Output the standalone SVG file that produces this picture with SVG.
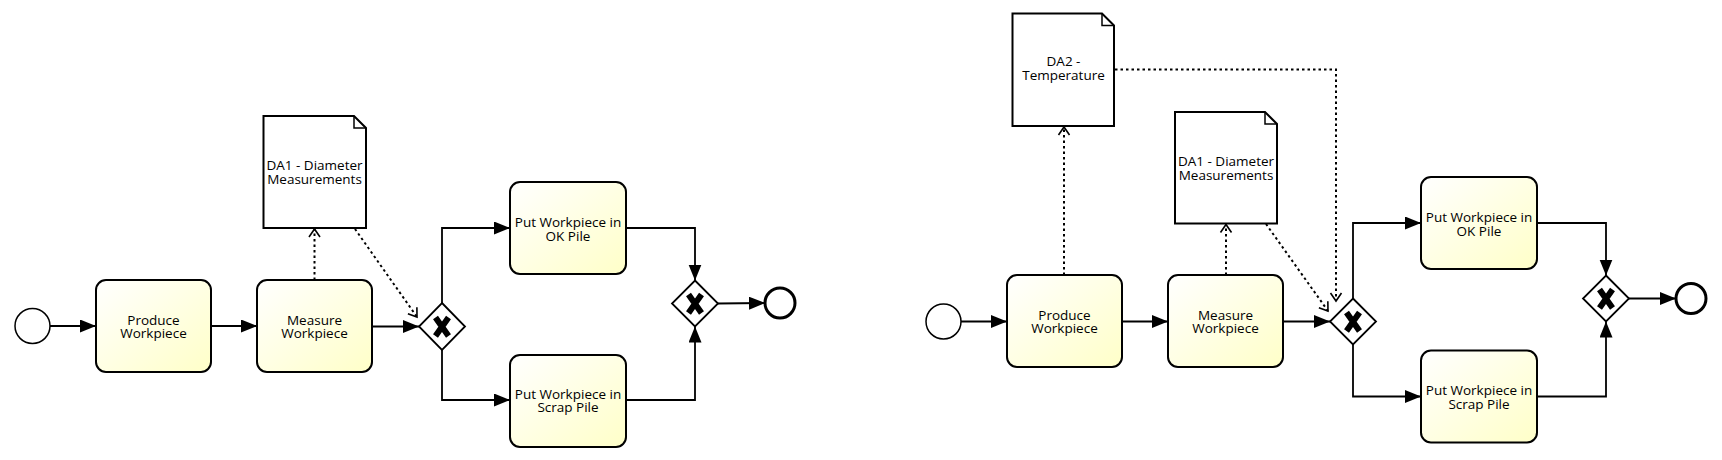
<svg xmlns="http://www.w3.org/2000/svg" width="1722" height="460" viewBox="0 0 1722 460">
<defs>
  <linearGradient id="taskFill" x1="0" y1="0" x2="1" y2="1">
    <stop offset="0" stop-color="#ffffff"/>
    <stop offset="1" stop-color="#ffffc8"/>
  </linearGradient>
  <marker id="seq" markerUnits="userSpaceOnUse" markerWidth="18" markerHeight="14" refX="16" refY="6.5" orient="auto">
    <path d="M0,0 L16,6.5 L0,13 Z" fill="#000"/>
  </marker>
  <marker id="assoc" markerUnits="userSpaceOnUse" markerWidth="12" markerHeight="14" refX="9" refY="7" orient="auto">
    <path d="M1,1.5 L9,7 L1,12.5" fill="none" stroke="#000" stroke-width="1.6"/>
  </marker>
</defs>
<style>
  .task { fill: url(#taskFill); stroke: #000; stroke-width: 2; }
  .data { fill: #fff; stroke: #000; stroke-width: 2; }
  .gw { fill: #fff; stroke: #000; stroke-width: 1.8; }
  .xm { stroke: #000; stroke-width: 6; stroke-linecap: butt; fill: none; }
  .start { fill: #fff; stroke: #000; stroke-width: 1.5; }
  .end { fill: #fff; stroke: #000; stroke-width: 3; }
  .flow { fill: none; stroke: #000; stroke-width: 1.8; marker-end: url(#seq); }
  .asc { fill: none; stroke: #000; stroke-width: 2; stroke-dasharray: 2.5 3; marker-end: url(#assoc); }
  .lbl { font-family: "Open Sans", "Liberation Sans", sans-serif; font-size: 13.5px; fill: #000; text-anchor: middle; }
</style>
<rect width="1722" height="460" fill="#fff"/>

<!-- ========== Left diagram ========== -->
<g id="L_start"><circle class="start" cx="32.5" cy="326" r="17.5"/></g>
<g id="L_produce">
  <rect class="task" x="96" y="280" width="115" height="92" rx="10"/>
  <text class="lbl" x="153.5" y="324.5">Produce<tspan x="153.5" dy="13.5">Workpiece</tspan></text>
</g>
<g id="L_measure">
  <rect class="task" x="257" y="280" width="115" height="92" rx="10"/>
  <text class="lbl" x="314.5" y="324.5">Measure<tspan x="314.5" dy="13.5">Workpiece</tspan></text>
</g>
<g id="L_gw1">
  <path class="gw" d="M442,303 L465,326.5 L442,350 L419,326.5 Z"/>
  <path class="xm" d="M435.5,317.5 L448.5,336 M448.5,317.5 L435.5,336"/>
</g>
<g id="L_ok">
  <rect class="task" x="510" y="182" width="116" height="92" rx="10"/>
  <text class="lbl" x="568" y="227">Put Workpiece in<tspan x="568" dy="13.5">OK Pile</tspan></text>
</g>
<g id="L_scrap">
  <rect class="task" x="510" y="355" width="116" height="92" rx="10"/>
  <text class="lbl" x="568" y="398.5">Put Workpiece in<tspan x="568" dy="13.5">Scrap Pile</tspan></text>
</g>
<g id="L_gw2">
  <path class="gw" d="M695,280.5 L718,303.5 L695,326.5 L672,303.5 Z"/>
  <path class="xm" d="M688.5,294.5 L701.5,313 M701.5,294.5 L688.5,313"/>
</g>
<g id="L_end"><circle class="end" cx="780" cy="303" r="15"/></g>
<g id="L_da1">
  <path class="data" d="M263.5,116 L354,116 L366,128 L366,228 L263.5,228 Z"/>
  <path d="M354,116 L354,128 L366,128" fill="none" stroke="#000" stroke-width="1.5"/>
  <text class="lbl" x="314.5" y="170">DA1 - Diameter<tspan x="314.5" dy="14">Measurements</tspan></text>
</g>

<!-- ========== Right diagram ========== -->
<g id="R_start"><circle class="start" cx="943.5" cy="321.5" r="17.5"/></g>
<g id="R_produce">
  <rect class="task" x="1007" y="275" width="115" height="92" rx="10"/>
  <text class="lbl" x="1064.5" y="319.5">Produce<tspan x="1064.5" dy="13.5">Workpiece</tspan></text>
</g>
<g id="R_measure">
  <rect class="task" x="1168" y="275" width="115" height="92" rx="10"/>
  <text class="lbl" x="1225.5" y="319.5">Measure<tspan x="1225.5" dy="13.5">Workpiece</tspan></text>
</g>
<g id="R_gw1">
  <path class="gw" d="M1353,298.5 L1376,321.5 L1353,344.5 L1330,321.5 Z"/>
  <path class="xm" d="M1346.5,312.5 L1359.5,331 M1359.5,312.5 L1346.5,331"/>
</g>
<g id="R_ok">
  <rect class="task" x="1421" y="177" width="116" height="92" rx="10"/>
  <text class="lbl" x="1479" y="222">Put Workpiece in<tspan x="1479" dy="13.5">OK Pile</tspan></text>
</g>
<g id="R_scrap">
  <rect class="task" x="1421" y="350.5" width="116" height="92" rx="10"/>
  <text class="lbl" x="1479" y="395">Put Workpiece in<tspan x="1479" dy="13.5">Scrap Pile</tspan></text>
</g>
<g id="R_gw2">
  <path class="gw" d="M1606,275.5 L1629,298.5 L1606,321.5 L1583,298.5 Z"/>
  <path class="xm" d="M1599.5,289.5 L1612.5,308 M1612.5,289.5 L1599.5,308"/>
</g>
<g id="R_end"><circle class="end" cx="1691" cy="298.5" r="15"/></g>
<g id="R_da2">
  <path class="data" d="M1012.5,13.5 L1102,13.5 L1114,25.5 L1114,126 L1012.5,126 Z"/>
  <path d="M1102,13.5 L1102,25.5 L1114,25.5" fill="none" stroke="#000" stroke-width="1.5"/>
  <text class="lbl" x="1063.5" y="66">DA2 -<tspan x="1063.5" dy="14">Temperature</tspan></text>
</g>
<g id="R_da1">
  <path class="data" d="M1175,112 L1265,112 L1277,124 L1277,223.5 L1175,223.5 Z"/>
  <path d="M1265,112 L1265,124 L1277,124" fill="none" stroke="#000" stroke-width="1.5"/>
  <text class="lbl" x="1226" y="165.5">DA1 - Diameter<tspan x="1226" dy="14">Measurements</tspan></text>
</g>

<!-- ========== Connectors ========== -->
<g id="connectors">
  <path class="flow" d="M50,326 L96,326"/>
  <path class="flow" d="M211,326 L257,326"/>
  <path class="flow" d="M372,326.5 L419,326.5"/>
  <path class="flow" d="M442,303 L442,228 L510,228"/>
  <path class="flow" d="M442,350 L442,400 L510,400"/>
  <path class="flow" d="M626,228 L695,228 L695,280.5"/>
  <path class="flow" d="M626,400 L695,400 L695,326.5"/>
  <path class="flow" d="M718,303.5 L765,303"/>
  <path class="asc" d="M314.5,280 L314.5,229"/>
  <path class="asc" d="M355,229 L417,317"/>

  <path class="flow" d="M961,321.5 L1007,321.5"/>
  <path class="flow" d="M1122,321.5 L1168,321.5"/>
  <path class="flow" d="M1283,321.5 L1330,321.5"/>
  <path class="flow" d="M1353,298.5 L1353,223 L1421,223"/>
  <path class="flow" d="M1353,344.5 L1353,396.5 L1421,396.5"/>
  <path class="flow" d="M1537,223 L1606,223 L1606,275.5"/>
  <path class="flow" d="M1537,396.5 L1606,396.5 L1606,321.5"/>
  <path class="flow" d="M1629,298.5 L1676,298.5"/>
  <path class="asc" d="M1064,275 L1064,127"/>
  <path class="asc" d="M1226,275 L1226,224.5"/>
  <path class="asc" d="M1115,69.5 L1336,69.5 L1336,301"/>
  <path class="asc" d="M1266,224 L1328,311"/>
</g>
</svg>
